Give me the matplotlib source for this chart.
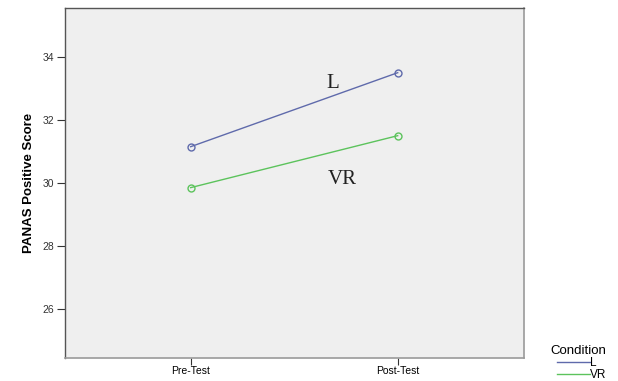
"""
PANAS positive score, pre/post test by condition
"""

import numpy as np
import matplotlib
matplotlib.use('Agg')
import matplotlib.pyplot as plt
from matplotlib.lines import Line2D

# data
phases = ['Pre-Test', 'Post-Test']
conditions = ['L', 'VR']
score_L = [31.15, 33.5]
score_VR = [29.85, 31.5]
yticks = [26, 28, 30, 32, 34]

colors = {'L': '#5f6aab', 'VR': '#5cc35c'}

plt.rcParams['font.family'] = ['Liberation Sans', 'DejaVu Sans']

fig = plt.figure(figsize=(6.18, 3.81), dpi=100)
ax = fig.add_axes([65 / 618, 1 - 358 / 381, 459 / 618, 350.5 / 381])
ax.set_facecolor('#efefef')

x = np.arange(len(phases))
for name, vals in zip(conditions, [score_L, score_VR]):
    ax.plot(x, vals, color=colors[name], linewidth=1.0, marker='o',
            markersize=5, markerfacecolor='none', markeredgewidth=1.0)

ax.set_xlim(-0.607, 1.61)
ax.set_ylim(24.44, 35.57)
ax.set_xticks(x)
ax.set_xticklabels(phases, fontsize=7.5)
ax.set_yticks(yticks)
ax.set_yticklabels([str(t) for t in yticks], fontsize=7.5, color='#333333')
ax.tick_params(axis='y', length=6, width=0.8, color='#333333', pad=2)
ax.tick_params(axis='x', length=5, width=0.8, color='#333333', pad=1)
ax.set_ylabel('PANAS Positive Score', fontsize=9.5, fontweight='bold', labelpad=5)

for side in ['left', 'top']:
    ax.spines[side].set_color('#555555')
    ax.spines[side].set_linewidth(1.0)
for side in ['right', 'bottom']:
    ax.spines[side].set_color('#9a9a9a')
    ax.spines[side].set_linewidth(1.2)

# in-plot labels
ax.text(0.685, 33.17, 'L', family='Liberation Serif', fontsize=15,
        ha='center', va='center', color='#222222')
ax.text(0.733, 30.1, 'VR', family='Liberation Serif', fontsize=15,
        ha='center', va='center', color='#222222')

handles = [Line2D([], [], color=colors[c], linewidth=1.0) for c in conditions]
fig.legend(handles, conditions, title='Condition', loc='lower left',
           bbox_to_anchor=(543 / 618, -0.018), frameon=False, fontsize=8.5,
           title_fontsize=9.5, handlelength=2.8, handletextpad=0.0,
           labelspacing=0.0, borderpad=0.1, alignment='right')

fig.savefig('out.png', dpi=100)
